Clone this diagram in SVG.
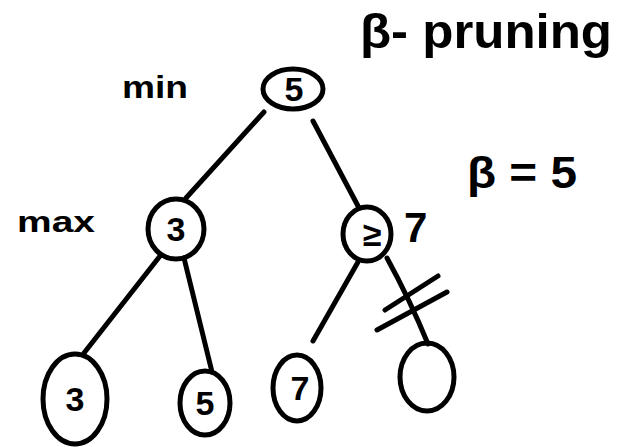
<svg xmlns="http://www.w3.org/2000/svg" width="626" height="447" viewBox="0 0 626 447">
<style>
.s{fill:none;stroke:#000;stroke-width:5;stroke-linecap:round;stroke-linejoin:round}
.t{font-family:"Liberation Sans","DejaVu Sans",sans-serif;fill:#000;font-weight:bold}
.n{font-family:"Liberation Sans","DejaVu Sans",sans-serif;fill:#000;font-size:34px;font-weight:bold;text-anchor:middle}
</style>
<rect width="626" height="447" fill="#fff"/>
<g id="labels">
<text class="t" x="360" y="48" font-size="48" textLength="252" lengthAdjust="spacingAndGlyphs">β- pruning</text>
<text class="t" x="122" y="98" font-size="32" textLength="66" lengthAdjust="spacingAndGlyphs">min</text>
<text class="t" x="17" y="232" font-size="30" textLength="78" lengthAdjust="spacingAndGlyphs">max</text>
<text class="t" x="467" y="188" font-size="44" textLength="110" lengthAdjust="spacingAndGlyphs">β = 5</text>
</g>
<g id="connectors">
<path class="s" d="M264 112 L186 198"/>
<path class="s" d="M313 121 L358 206"/>
<path class="s" d="M160 256 L84 353"/>
<path class="s" d="M184 258 L212 372"/>
<path class="s" d="M358 262 L313 341"/>
<path class="s" d="M387 258 Q410 300 428 344"/>
<path class="s" d="M385 310 L438 276"/>
<path class="s" d="M377 330 L447 292"/>
</g>
<g id="root"><ellipse class="s" cx="293" cy="89" rx="30" ry="20"/><text class="n" x="294" y="101">5</text></g>
<g id="max3"><ellipse class="s" cx="176" cy="229" rx="28" ry="30"/><text class="n" x="176" y="241">3</text></g>
<g id="min7"><ellipse class="s" cx="367" cy="234" rx="24" ry="27"/><text class="n" x="372" y="246">≥</text><text class="t" x="404" y="242" font-size="42">7</text></g>
<g id="leaf3"><ellipse class="s" cx="75" cy="399" rx="32" ry="45"/><text class="n" x="75" y="411">3</text></g>
<g id="leaf5"><ellipse class="s" cx="205" cy="403" rx="25" ry="32"/><text class="n" x="205" y="415">5</text></g>
<g id="leaf7"><ellipse class="s" cx="297" cy="388" rx="24" ry="33"/><text class="n" x="300" y="400">7</text></g>
<g id="leafPruned"><ellipse class="s" cx="427" cy="377" rx="27" ry="34"/></g>
</svg>
